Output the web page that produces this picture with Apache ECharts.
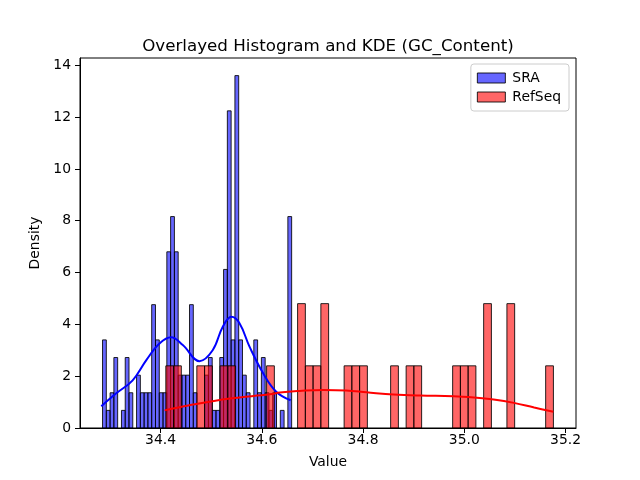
<!DOCTYPE html>
<html>
<head>
<meta charset="utf-8">
<title>Overlayed Histogram and KDE (GC_Content)</title>
<script src="https://cdn.jsdelivr.net/npm/echarts@6/dist/echarts.min.js"></script>
<style>
  html, body { margin: 0; padding: 0; background: #fff; }
  #chart { width: 640px; height: 480px; }
</style>
</head>
<body>
<div id="chart"></div>
<script>
// SRA histogram: 50 equal bins, density per bin
const sraBinStart = 34.2855;
const sraBinWidth = 0.00747;
const sraDensity = [
  3.40, 0.68, 1.36, 2.72, 0, 0.68, 2.72, 1.36, 0, 2.04,
  1.36, 1.36, 1.36, 4.76, 3.40, 1.36, 1.36, 6.80, 8.16, 6.80,
  2.04, 2.04, 2.04, 4.76, 1.36, 0, 0, 2.04, 2.72, 0.68,
  0.68, 2.72, 6.12, 12.24, 3.40, 13.60, 3.40, 2.04, 1.36, 0,
  3.40, 1.36, 2.72, 1.36, 0.68, 1.36, 0, 0.68, 0, 8.16
];

// RefSeq histogram: 50 equal bins
const refBinStart = 34.4105;
const refBinWidth = 0.01531;
const refDensity = [
  2.4, 2.4, 0, 0, 2.4, 2.4, 0, 2.4, 2.4, 0,
  0, 0, 0, 2.4, 0, 0, 0, 4.8, 2.4, 2.4,
  4.8, 0, 0, 2.4, 2.4, 2.4, 0, 0, 0, 2.4,
  0, 2.4, 2.4, 0, 0, 0, 0, 2.4, 2.4, 2.4,
  0, 4.8, 0, 0, 4.8, 0, 0, 0, 0, 2.4
];

// KDE curves
const sraKdeX = [34.283, 34.312, 34.345, 34.372, 34.398, 34.421, 34.444, 34.477,
  34.503, 34.523, 34.540, 34.556, 34.576, 34.603, 34.629, 34.657];
const sraKdeY = [0.84, 1.33, 1.84, 2.62, 3.26, 3.50, 3.20, 2.58,
  3.00, 3.91, 4.29, 4.04, 3.13, 2.10, 1.39, 1.07];
const refKdeX = [34.408, 34.457, 34.537, 34.616, 34.636, 34.675, 34.721, 34.767, 34.807,
  34.860, 34.913, 34.979, 35.019, 35.058, 35.098, 35.138, 35.176];
const refKdeY = [0.68, 0.88, 1.14, 1.30, 1.37, 1.43, 1.47, 1.45, 1.38,
  1.29, 1.25, 1.23, 1.18, 1.10, 0.97, 0.79, 0.63];

const xTicks = [34.4, 34.6, 34.8, 35.0, 35.2];
const yTicks = [0, 2, 4, 6, 8, 10, 12, 14];

const SRA_FILL = 'rgba(0,0,255,0.6)';
const REF_FILL = 'rgba(255,0,0,0.6)';
const EDGE = 'rgba(0,0,0,0.85)';
const FONT = 'DejaVu Sans';

// [left edge, right edge, density] for non-empty bins
function toBars(start, width, dens) {
  const out = [];
  dens.forEach((d, i) => {
    if (d > 0) out.push([start + i * width, start + (i + 1) * width, d]);
  });
  return out;
}

function barRenderer(fill) {
  return function (params, api) {
    const p0 = api.coord([api.value(0), api.value(2)]);
    const p1 = api.coord([api.value(1), 0]);
    return {
      type: 'rect',
      shape: { x: p0[0], y: p0[1], width: p1[0] - p0[0], height: p1[1] - p0[1] },
      style: { fill: fill, stroke: EDGE, lineWidth: 1 }
    };
  };
}

const chart = echarts.init(document.getElementById('chart'));

const option = {
  animation: false,
  textStyle: { fontFamily: FONT, color: '#000' },
  title: {
    text: 'Overlayed Histogram and KDE (GC_Content)',
    left: 323,
    top: 33,
    textAlign: 'center',
    textStyle: { fontFamily: FONT, fontSize: 16.7, fontWeight: 'normal', color: '#000' }
  },
  legend: {
    orient: 'vertical',
    right: 71,
    top: 64,
    padding: [7, 8, 7, 6],
    itemWidth: 28,
    itemHeight: 10,
    itemGap: 5,
    backgroundColor: '#fff',
    borderColor: '#cccccc',
    borderWidth: 1,
    borderRadius: 3,
    textStyle: { fontFamily: FONT, fontSize: 13.9, color: '#000', padding: [0, 0, 0, 2] },
    data: [
      { name: 'SRA', icon: 'rect', itemStyle: { color: SRA_FILL, borderColor: EDGE, borderWidth: 1 } },
      { name: 'RefSeq', icon: 'rect', itemStyle: { color: REF_FILL, borderColor: EDGE, borderWidth: 1 } }
    ]
  },
  grid: {
    left: 80,
    right: 64,
    top: 58,
    bottom: 52,
    show: true,
    borderColor: '#000',
    borderWidth: 1,
    backgroundColor: 'transparent'
  },
  xAxis: {
    type: 'value',
    min: 34.241,
    max: 35.2206,
    name: 'Value',
    nameLocation: 'middle',
    nameGap: 27,
    nameTextStyle: { fontFamily: FONT, fontSize: 13.9, color: '#000' },
    axisLine: { show: true, lineStyle: { color: '#000', width: 1 } },
    axisTick: { show: true, length: 5, customValues: xTicks, lineStyle: { color: '#000' } },
    axisLabel: {
      customValues: xTicks,
      margin: 5,
      fontFamily: FONT,
      fontSize: 13.9,
      color: '#000',
      formatter: v => v.toFixed(1)
    },
    splitLine: { show: false }
  },
  yAxis: {
    type: 'value',
    min: 0,
    max: 14.28,
    name: 'Density',
    nameLocation: 'middle',
    nameGap: 33,
    nameTextStyle: { fontFamily: FONT, fontSize: 13.9, color: '#000' },
    axisLine: { show: true, lineStyle: { color: '#000', width: 1 } },
    axisTick: { show: true, length: 5, customValues: yTicks, lineStyle: { color: '#000' } },
    axisLabel: {
      customValues: yTicks,
      margin: 9,
      fontFamily: FONT,
      fontSize: 13.9,
      color: '#000'
    },
    splitLine: { show: false }
  },
  series: [
    {
      name: 'SRA',
      type: 'custom',
      renderItem: barRenderer(SRA_FILL),
      itemStyle: { color: SRA_FILL, borderColor: EDGE, borderWidth: 1 },
      encode: { x: [0, 1], y: 2 },
      data: toBars(sraBinStart, sraBinWidth, sraDensity),
      z: 2
    },
    {
      name: 'RefSeq',
      type: 'custom',
      renderItem: barRenderer(REF_FILL),
      itemStyle: { color: REF_FILL, borderColor: EDGE, borderWidth: 1 },
      encode: { x: [0, 1], y: 2 },
      data: toBars(refBinStart, refBinWidth, refDensity),
      z: 3
    },
    {
      name: 'SRA KDE',
      type: 'line',
      data: sraKdeX.map((x, i) => [x, sraKdeY[i]]),
      smooth: 0.4,
      showSymbol: false,
      lineStyle: { color: '#0000ff', width: 2 },
      itemStyle: { color: '#0000ff' },
      z: 4
    },
    {
      name: 'RefSeq KDE',
      type: 'line',
      data: refKdeX.map((x, i) => [x, refKdeY[i]]),
      smooth: 0.4,
      showSymbol: false,
      lineStyle: { color: '#ff0000', width: 2 },
      itemStyle: { color: '#ff0000' },
      z: 4
    }
  ]
};

chart.setOption(option);
</script>
</body>
</html>
